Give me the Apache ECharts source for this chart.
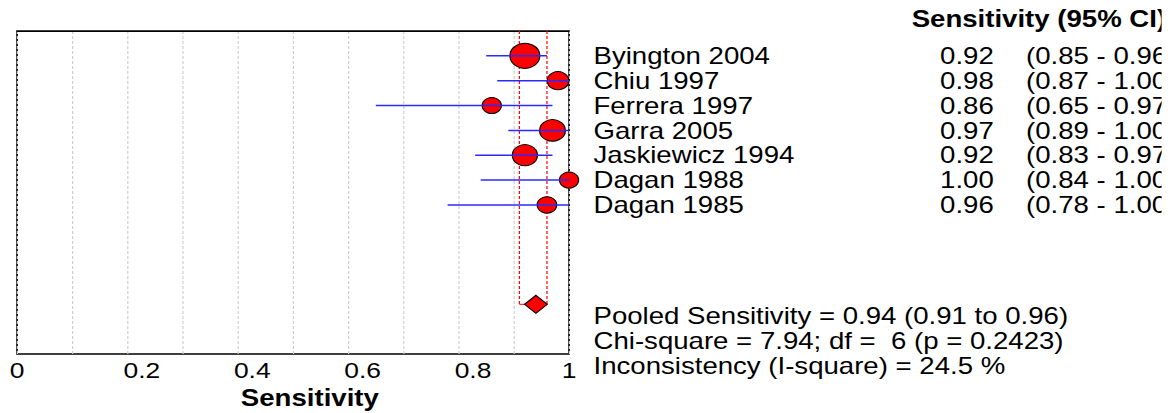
<!DOCTYPE html>
<html>
<head>
<meta charset="utf-8">
<script src="https://cdn.jsdelivr.net/npm/echarts@6/dist/echarts.min.js"></script>
<style>
  html, body { margin: 0; padding: 0; background: #fff; }
  #wrap { width: 1172px; height: 413px; overflow: hidden; background: #fff; }
  #main { width: 967.5px; height: 413px; transform: scaleX(1.2); transform-origin: 0 0; }
</style>
</head>
<body>
<div id="wrap"><div id="main"></div></div>
<script>
// ---- data ----
const studies = ['Byington 2004', 'Chiu 1997', 'Ferrera 1997', 'Garra 2005', 'Jaskiewicz 1994', 'Dagan 1988', 'Dagan 1985'];
const sens = [0.92, 0.98, 0.86, 0.97, 0.92, 1.00, 0.96];
const ciLow = [0.85, 0.87, 0.65, 0.89, 0.83, 0.84, 0.78];
const ciHigh = [0.96, 1.00, 0.97, 1.00, 0.97, 1.00, 1.00];
const weights = [23.8, 12.3, 9.7, 17.6, 16.8, 9.7, 10.1];
const pooledSens = [0.94];
const pooledLow = [0.91];
const pooledHigh = [0.96];
const xTickLabels = ['0', '0.2', '0.4', '0.6', '0.8', '1'];
const headerText = 'Sensitivity (95% CI)';
const axisTitle = 'Sensitivity';
const summaryLines = [
  'Pooled Sensitivity = 0.94 (0.91 to 0.96)',
  'Chi-square = 7.94; df =  6 (p = 0.2423)',
  'Inconsistency (I-square) = 24.5 %'
];

// ---- layout ----
const FONT = "'Liberation Sans', Arial, sans-serif";
const POOLED_ROW = 11;
const maxW = Math.max(...weights);
const sizeOf = w => 25 * Math.sqrt(w / maxW);

const chart = echarts.init(document.getElementById('main'), null, { renderer: 'svg' });

function textAxis(offset, fmt) {
  return {
    type: 'value', gridIndex: 0, position: 'right', offset: offset,
    min: 0, max: 13, interval: 1, inverse: true,
    axisLine: { show: false }, axisTick: { show: false }, splitLine: { show: false },
    axisLabel: {
      show: true, margin: 0, align: 'left', hideOverlap: false,
      fontFamily: FONT, fontSize: 23, color: '#000',
      showMinLabel: true, showMaxLabel: true,
      formatter: v => (v >= 1 && v <= studies.length) ? fmt(v - 1) : ''
    }
  };
}

const option = {
  backgroundColor: '#fff',
  animation: false,
  grid: {
    left: 14.2, top: 31, width: 460, height: 323,
    containLabel: false, outerBoundsMode: 'none',
    show: true, borderColor: '#000', borderWidth: 1.4, backgroundColor: 'transparent'
  },
  xAxis: {
    type: 'value', min: 0, max: 1, interval: 0.1,
    axisLine: { show: true, lineStyle: { color: '#000', width: 1 } },
    axisTick: { show: false },
    splitLine: { show: true, lineStyle: { color: '#cfcfcf', width: 1, type: [3, 2] } },
    axisLabel: {
      margin: 5, fontFamily: FONT, fontSize: 22, color: '#000', hideOverlap: false,
      formatter: v => {
        const i = xTickLabels.findIndex(t => Math.abs(Number(t) - v) < 1e-6);
        if (i < 0) return '';
        if (i === 0 || i === xTickLabels.length - 1) return xTickLabels[i];
        return '{s|' + xTickLabels[i] + '}';
      },
      rich: { s: { padding: [0, 0, 0, 24], fontFamily: FONT, fontSize: 22, color: '#000' } }
    },
    name: axisTitle, nameLocation: 'middle', nameGap: 27,
    nameTextStyle: { fontFamily: FONT, fontSize: 23, fontWeight: 'bold', color: '#000', padding: [0, 0, 0, 28] }
  },
  yAxis: [
    { type: 'value', min: 0, max: 13, inverse: true, show: false },
    textAxis(20.4, i => studies[i]),
    textAxis(309.2, i => sens[i].toFixed(2)),
    textAxis(380.8, i => '(' + ciLow[i].toFixed(2) + ' - ' + ciHigh[i].toFixed(2) + ')')
  ],
  graphic: [
    {
      type: 'text', left: 759.7, top: 7,
      style: { text: headerText, font: 'bold 23px ' + FONT, fill: '#000' }
    },
    ...summaryLines.map((t, i) => ({
      type: 'text', left: 494.6, top: 304 + i * 25,
      style: { text: t, font: '23px ' + FONT, fill: '#000' }
    }))
  ],
  series: [
    {
      type: 'custom', name: 'pooled CI', z: 2,
      data: [[pooledLow[0], pooledHigh[0], POOLED_ROW]],
      encode: { x: [0, 1], y: 2 },
      renderItem: (params, api) => {
        const top = api.coord([api.value(0), 0]);
        const l = api.coord([api.value(0), api.value(2)]);
        const r = api.coord([api.value(1), api.value(2)]);
        const rt = api.coord([api.value(1), 0]);
        const dashed = { stroke: '#ff0000', lineWidth: 1, lineDash: [3, 2] };
        return {
          type: 'group', children: [
            { type: 'line', shape: { x1: top[0], y1: top[1], x2: l[0], y2: l[1] }, style: dashed },
            { type: 'line', shape: { x1: rt[0], y1: rt[1], x2: r[0], y2: r[1] }, style: dashed },
            { type: 'line', shape: { x1: l[0], y1: l[1], x2: r[0], y2: r[1] }, style: { stroke: '#ff0000', lineWidth: 1 } }
          ]
        };
      }
    },
    {
      type: 'scatter', name: 'studies', z: 3, clip: false,
      data: studies.map((s, i) => ({ value: [sens[i], i + 1], symbolSize: sizeOf(weights[i]) })),
      symbol: 'circle',
      itemStyle: { color: '#ff0000', borderColor: '#000', borderWidth: 1, opacity: 1 }
    },
    {
      type: 'custom', name: 'study CI', z: 4,
      data: studies.map((s, i) => [ciLow[i], ciHigh[i], i + 1]),
      encode: { x: [0, 1], y: 2 },
      renderItem: (params, api) => {
        const p1 = api.coord([api.value(0), api.value(2)]);
        const p2 = api.coord([api.value(1), api.value(2)]);
        return { type: 'line', shape: { x1: p1[0], y1: p1[1], x2: p2[0], y2: p2[1] }, style: { stroke: '#2a2aff', lineWidth: 1.5 } };
      }
    },
    {
      type: 'scatter', name: 'pooled', z: 5, clip: false,
      data: [[pooledSens[0], POOLED_ROW]],
      symbol: 'diamond', symbolSize: [19, 18],
      itemStyle: { color: '#ff0000', borderColor: '#000', borderWidth: 1, opacity: 1 }
    }
  ]
};
chart.setOption(option);
</script>
</body>
</html>
